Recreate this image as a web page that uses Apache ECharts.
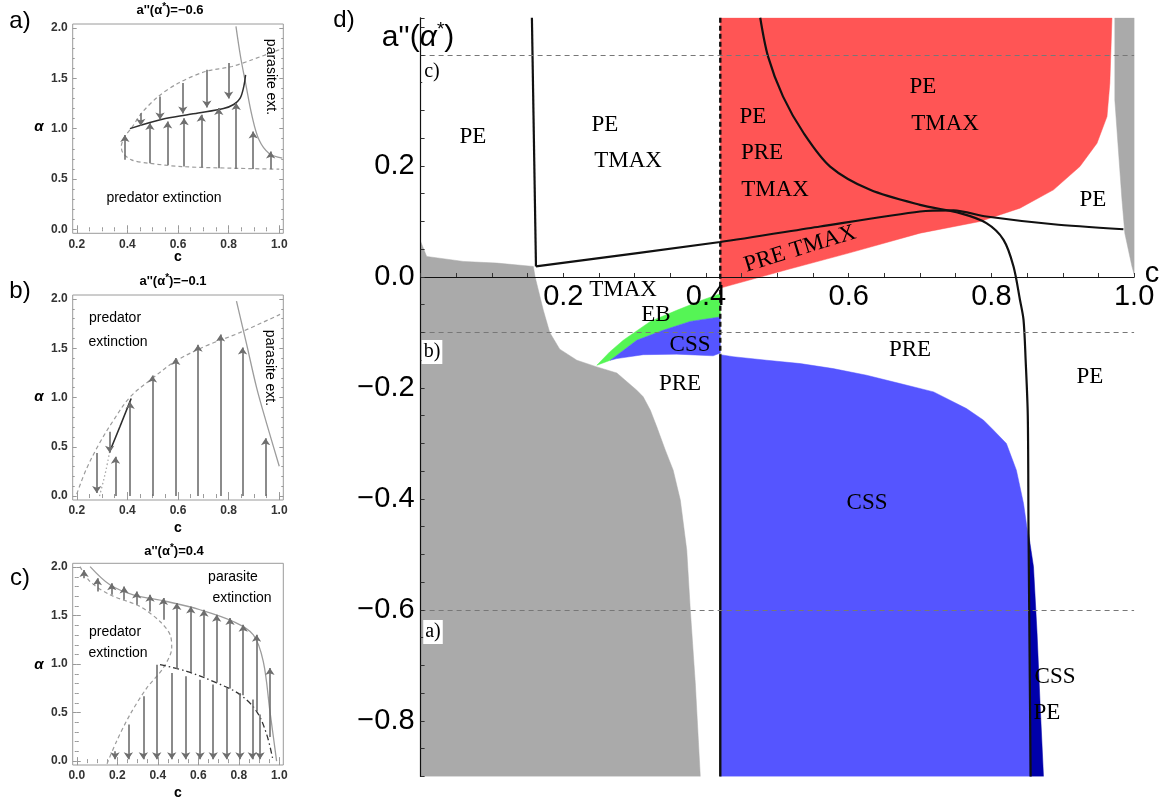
<!DOCTYPE html>
<html><head><meta charset="utf-8">
<script src="https://cdn.jsdelivr.net/npm/echarts@6/dist/echarts.min.js"></script>
<style>html,body{margin:0;padding:0;background:#fff}#c{width:1163px;height:803px}</style>
</head><body><div id="c"></div>
<script>
// ---------------- DATA ----------------
// small panels: tick values
const abXMajor = [0.2, 0.4, 0.6, 0.8, 1.0];
const abXMinor = [0.25, 0.3, 0.35, 0.45, 0.5, 0.55, 0.65, 0.7, 0.75, 0.85, 0.9, 0.95];
const cXMajor = [0.0, 0.2, 0.4, 0.6, 0.8, 1.0];
const cXMinor = [0.05, 0.1, 0.15, 0.25, 0.3, 0.35, 0.45, 0.5, 0.55, 0.65, 0.7, 0.75, 0.85, 0.9, 0.95];
const smallYMajor = [0.0, 0.5, 1.0, 1.5, 2.0];
const smallYMinor = [0.1, 0.2, 0.3, 0.4, 0.6, 0.7, 0.8, 0.9, 1.1, 1.2, 1.3, 1.4, 1.6, 1.7, 1.8, 1.9];

// panel a  (c, alpha)
const aDashed = [[1.0,1.784],[0.893,1.685],[0.814,1.618],[0.708,1.568],[0.602,1.453],[0.522,1.32],[0.456,1.154],[0.416,1.005],[0.39,0.921],[0.376,0.822],[0.383,0.756],[0.416,0.69],[0.482,0.657],[0.615,0.623],[0.814,0.607],[1.0,0.597]];
const aStable = [[0.41,1.0],[0.55,1.1],[0.68,1.155],[0.78,1.2],[0.82,1.24],[0.845,1.3],[0.86,1.42],[0.867,1.535]];
const aParasite = [[0.829,2.016],[0.847,1.717],[0.867,1.453],[0.893,1.12],[0.92,0.889],[0.959,0.756],[1.012,0.706]];
const aArrowsDown = [[0.453,1.154,1.03],[0.529,1.32,1.09],[0.619,1.453,1.15],[0.714,1.585,1.21],[0.8,1.652,1.30]];
const aArrowsUp = [[0.39,0.69,0.938],[0.489,0.657,1.055],[0.559,0.64,1.071],[0.624,0.623,1.104],[0.692,0.613,1.137],[0.761,0.607,1.204],[0.83,0.6,1.254],[0.897,0.6,0.971],[0.966,0.597,0.772]];

// panel b
const bDashed = [[0.2,0.02],[0.237,0.268],[0.29,0.537],[0.343,0.76],[0.409,1.0],[0.488,1.173],[0.594,1.374],[0.712,1.525],[0.844,1.658],[1.003,1.843]];
const bDotted = [[0.29,0.0],[0.305,0.15],[0.316,0.268],[0.33,0.45]];
const bStable = [[0.33,0.45],[0.37,0.7],[0.415,0.99]];
const bParasite = [[0.831,1.977],[0.871,1.542],[0.91,1.106],[0.95,0.738],[1.0,0.302]];
const bArrowsDown = [[0.279,0.436,0.03],[0.33,0.653,0.44]];
const bArrowsUp = [[0.353,0.0,0.40],[0.411,0.0,0.955],[0.499,0.0,1.223],[0.591,0.0,1.4],[0.679,0.0,1.535],[0.768,0.0,1.64],[0.855,0.0,1.507],[0.946,0.0,0.587]];

// panel c
const cParasite = [[0.066,2.006],[0.164,1.818],[0.279,1.715],[0.444,1.646],[0.609,1.561],[0.773,1.44],[0.872,1.303],[0.921,1.029],[0.954,0.514],[0.987,0.0]];
const cDashed = [[0.016,2.006],[0.066,1.852],[0.164,1.715],[0.312,1.595],[0.411,1.44],[0.461,1.304],[0.469,1.167],[0.427,0.961],[0.346,0.755],[0.263,0.48],[0.197,0.206],[0.148,-0.034]];
const cUnstable = [[0.411,0.995],[0.543,0.926],[0.691,0.807],[0.806,0.686],[0.888,0.514],[0.938,0.275],[0.97,0.0]];
const cArrowsUp = [[0.036,1.887,1.972],[0.102,1.749,1.887],[0.173,1.715,1.835],[0.234,1.664,1.8],[0.296,1.612,1.749],[0.362,1.543,1.715],[0.428,1.458,1.681],[0.494,0.95,1.63],[0.563,0.92,1.595],[0.628,0.87,1.56],[0.691,0.81,1.509],[0.757,0.75,1.475],[0.822,0.68,1.406],[0.888,0.514,1.304],[0.954,0.25,0.961]];
const cArrowsDown = [[0.189,0.103,0.02],[0.255,0.378,0.02],[0.329,0.669,0.02],[0.395,0.995,0.02],[0.469,0.909,0.02],[0.538,0.875,0.02],[0.609,0.84,0.02],[0.674,0.789,0.02],[0.74,0.755,0.02],[0.806,0.703,0.02],[0.867,0.635,0.02],[0.905,0.48,0.02]];

// panel d  (c, a''(alpha*))
const dGreyLeft = [[0,0.064],[0.0085,0.037],[0.06,0.028],[0.107,0.025],[0.158,0.019],[0.1605,0],[0.172,-0.06],[0.181,-0.1],[0.195,-0.13],[0.219,-0.15],[0.247,-0.162],[0.275,-0.173],[0.303,-0.204],[0.312,-0.216],[0.322,-0.24],[0.331,-0.27],[0.343,-0.312],[0.354,-0.348],[0.364,-0.402],[0.373,-0.492],[0.378,-0.6],[0.385,-0.732],[0.392,-0.9],[0,-0.9]];
const dGreyRight = [[0.973,0.467],[0.973,0.319],[0.978,0.229],[0.983,0.139],[0.987,0.079],[0.997,0.019],[1.0,0.005],[1.0,0.467]];
const dRed = [[0.42,0.467],[0.42,-0.02],[0.513,0.013],[0.6,0.043],[0.7,0.079],[0.784,0.1],[0.84,0.124],[0.887,0.157],[0.924,0.199],[0.948,0.241],[0.962,0.289],[0.966,0.349],[0.969,0.467]];
const dGreen = [[0.247,-0.159],[0.265,-0.135],[0.284,-0.114],[0.322,-0.08],[0.359,-0.06],[0.396,-0.041],[0.42,-0.03],[0.42,-0.072],[0.378,-0.08],[0.34,-0.096],[0.303,-0.114],[0.266,-0.15]];
const dBlueSmall = [[0.266,-0.15],[0.303,-0.114],[0.34,-0.096],[0.378,-0.08],[0.42,-0.072],[0.42,-0.137],[0.41,-0.142],[0.359,-0.139],[0.312,-0.14],[0.275,-0.147]];
const dBlueBig = [[0.42,-0.14],[0.438,-0.1436],[0.485,-0.15],[0.532,-0.156],[0.578,-0.165],[0.625,-0.177],[0.672,-0.192],[0.719,-0.207],[0.742,-0.222],[0.765,-0.237],[0.789,-0.258],[0.803,-0.276],[0.821,-0.3],[0.828,-0.324],[0.835,-0.348],[0.84,-0.378],[0.845,-0.408],[0.851,-0.462],[0.853,-0.5],[0.854,-0.582],[0.854,-0.9],[0.42,-0.9]];
const dDarkBlue = [[0.852,-0.462],[0.859,-0.522],[0.864,-0.642],[0.868,-0.762],[0.873,-0.9],[0.854,-0.9],[0.854,-0.55]];
const dBound1Vert = [[0.156,0.467],[0.1617,0.019]];
const dBound1 = [[0.1617,0.019],[0.42,0.063],[0.56,0.091],[0.7,0.118],[0.747,0.12],[0.793,0.109],[0.887,0.095],[0.985,0.086]];
const dBound2 = [[0.476,0.467],[0.487,0.397],[0.508,0.325],[0.537,0.259],[0.574,0.199],[0.63,0.157],[0.7,0.13],[0.756,0.115],[0.793,0.097],[0.817,0.067],[0.831,0.019],[0.84,-0.041],[0.845,-0.077],[0.848,-0.15],[0.851,-0.25],[0.852,-0.45],[0.855,-0.9]];
const dSepDashed = [[0.42,0.467],[0.42,-0.14]];
const dSepSolid = [[0.42,-0.14],[0.42,-0.9]];
const dLevels = [0.4, -0.1, -0.6];

// ---------------- BUILD ----------------
const SANS = '"Liberation Sans", Arial, sans-serif';
const SERIF = '"Liberation Serif", "Times New Roman", serif';
const grids = [], xAxes = [], yAxes = [], series = [], graphics = [];

function tickAxis(kind, gi, min, max, pos, ticks, len, showLabels) {
  return {
    gridIndex: gi, type: 'value', min: min, max: max, position: pos,
    axisLine: {show: false}, splitLine: {show: false},
    axisTick: {show: true, inside: true, length: len, customValues: ticks, lineStyle: {color: '#999', width: 1}},
    axisLabel: showLabels ? {show: true, customValues: ticks, formatter: v => v.toFixed(1),
      color: '#333', fontWeight: 'bold', fontSize: 12, fontFamily: SANS, margin: 5} : {show: false}
  };
}

function smallPanel(box, xr, xMaj, xMin) {
  const gi = grids.length;
  grids.push(Object.assign({show: true, borderColor: '#9a9a9a', borderWidth: 1, containLabel: false, outerBoundsMode: 'none'}, box));
  const xi = xAxes.length, yi = yAxes.length;
  xAxes.push(tickAxis('x', gi, xr[0], xr[1], 'bottom', xMaj, 4, true));
  xAxes.push(tickAxis('x', gi, xr[0], xr[1], 'bottom', xMin, 2, false));
  xAxes.push(tickAxis('x', gi, xr[0], xr[1], 'top', xMaj, 4, false));
  xAxes.push(tickAxis('x', gi, xr[0], xr[1], 'top', xMin, 2, false));
  yAxes.push(tickAxis('y', gi, -0.04, 2.04, 'left', smallYMajor, 4, true));
  yAxes.push(tickAxis('y', gi, -0.04, 2.04, 'left', smallYMinor, 2, false));
  yAxes.push(tickAxis('y', gi, -0.04, 2.04, 'right', smallYMajor, 4, false));
  yAxes.push(tickAxis('y', gi, -0.04, 2.04, 'right', smallYMinor, 2, false));
  return {xi, yi};
}

function curve(ax, data, color, width, type, smooth) {
  series.push({type: 'line', xAxisIndex: ax.xi, yAxisIndex: ax.yi, data: data, symbol: 'none', showSymbol: false,
    smooth: smooth === undefined ? 0.35 : smooth, silent: true, clip: true,
    lineStyle: {color: color, width: width, type: type || 'solid'}, z: 3});
}
function arrows(ax, arr) {
  series.push({type: 'lines', coordinateSystem: 'cartesian2d', xAxisIndex: ax.xi, yAxisIndex: ax.yi, silent: true,
    data: arr.map(a => ({coords: [[a[0], a[1]], [a[0], a[2]]]})),
    symbol: ['none', 'arrow'], symbolSize: 7,
    lineStyle: {color: '#6e6e6e', width: 1.6, opacity: 1, curveness: 0}, z: 4});
}
function poly(ax, pts, color) {
  series.push({type: 'custom', coordinateSystem: 'cartesian2d', xAxisIndex: ax.xi, yAxisIndex: ax.yi,
    data: [[pts[0][0], pts[0][1]]], silent: true, clip: true, z: 2,
    renderItem: (params, api) => ({type: 'polygon', shape: {points: pts.map(p => api.coord(p))},
      style: {fill: color, stroke: color, lineWidth: 0.5}})});
}
function txt(text, x, y, font, extra) {
  graphics.push(Object.assign({type: 'text', x: x, y: y, z: 100,
    style: Object.assign({text: text, font: font, fill: '#000', align: 'center', verticalAlign: 'middle',
      textAlign: 'center', textVerticalAlign: 'middle'}, (extra && extra.style) || {})},
    (extra && extra.el) || {}));
}

// ---- panel a
const A = smallPanel({left: 72.7, top: 24, width: 210.6, height: 209.3}, [0.184, 1.016], abXMajor, abXMinor);
curve(A, aDashed, '#9c9c9c', 1.2, [4, 3], 0.3);
curve(A, aParasite, '#9c9c9c', 1.3, 'solid');
curve(A, aStable, '#2e2e2e', 1.5, 'solid');
arrows(A, aArrowsDown); arrows(A, aArrowsUp);

// ---- panel b
const B = smallPanel({left: 72.7, top: 295, width: 210.6, height: 205}, [0.184, 1.016], abXMajor, abXMinor);
curve(B, bDashed, '#9c9c9c', 1.2, [4, 3]);
curve(B, bDotted, '#a8a8a8', 1.3, [1.5, 2.5]);
curve(B, bParasite, '#9c9c9c', 1.3, 'solid');
curve(B, bStable, '#2e2e2e', 1.6, 'solid', 0);
arrows(B, bArrowsDown); arrows(B, bArrowsUp);

// ---- panel c
const C = smallPanel({left: 72.7, top: 563.3, width: 210.6, height: 201.7}, [-0.02, 1.02], cXMajor, cXMinor);
curve(C, cDashed, '#9c9c9c', 1.2, [4, 3], 0.3);
curve(C, cParasite, '#9c9c9c', 1.3, 'solid');
curve(C, cUnstable, '#333', 1.3, [6, 3, 1.5, 3]);
arrows(C, cArrowsUp); arrows(C, cArrowsDown);

// ---- panel d
const gd = grids.length;
const dTop = 17.8, dH = 758.7;
const dZeroFromBottom = dH * 0.9 / 1.367;
grids.push({left: 420.6, top: dTop, width: 713.5, height: dH, containLabel: false, outerBoundsMode: 'none', show: false});
const isMul = (v, s) => Math.abs(v / s - Math.round(v / s)) < 1e-6;
const fmtD = v => (v < 0 ? '\u2212' + (-v).toFixed(1) : v.toFixed(1));
const D = {xi: xAxes.length, yi: yAxes.length};
xAxes.push({gridIndex: gd, type: 'value', min: 0, max: 1, interval: 0.05, z: 5,
  axisLine: {show: true, onZero: true, lineStyle: {color: '#111', width: 1.2}},
  axisTick: {show: true, inside: true, length: 4, lineStyle: {color: '#333'}},
  axisLabel: {show: false},
  splitLine: {show: false}});
yAxes.push({gridIndex: gd, type: 'value', min: -0.9, max: 0.467, interval: 0.05, z: 5,
  axisLine: {show: true, onZero: false, lineStyle: {color: '#111', width: 1.2}},
  axisTick: {show: true, inside: true, length: 4, lineStyle: {color: '#333'}},
  axisLabel: {formatter: v => (v < 0.3 && isMul(v, 0.2)) ? fmtD(v) : '', fontSize: 29, fontFamily: SANS, color: '#000', margin: 6},
  splitLine: {show: false}});
// label-only x axis sitting on the zero line
xAxes.push({gridIndex: gd, type: 'value', min: 0, max: 1, interval: 0.05, z: 5, position: 'bottom',
  offset: -dZeroFromBottom,
  axisLine: {show: false, onZero: false}, axisTick: {show: false},
  axisLabel: {formatter: v => (v > 0.01 && isMul(v, 0.2)) ? v.toFixed(1) : '', fontSize: 29, fontFamily: SANS, color: '#000', margin: 6},
  splitLine: {show: false}});

poly(D, dGreyLeft, '#aaaaaa');
poly(D, dGreyRight, '#aaaaaa');
poly(D, dRed, '#ff5555');
poly(D, dGreen, '#55f555');
poly(D, dBlueSmall, '#5555ff');
poly(D, dBlueBig, '#5555ff');
poly(D, dDarkBlue, '#0000aa');
curve(D, dBound1Vert, '#111', 2.2, 'solid', 0);
curve(D, dBound1, '#111', 2.2, 'solid', 0.25);
curve(D, dBound2, '#111', 2.2, 'solid', 0.3);
curve(D, dSepDashed, '#111', 2.4, [5, 3], 0);
curve(D, dSepSolid, '#111', 2.4, 'solid', 0);
series.push({type: 'line', xAxisIndex: D.xi, yAxisIndex: D.yi, data: [], silent: true, z: 6,
  markLine: {silent: true, symbol: ['none', 'none'], label: {show: false}, animation: false,
    lineStyle: {color: '#777', type: [5, 4], width: 1},
    data: dLevels.map(v => [{coord: [0, v]}, {coord: [1, v]}])}});

// ---------------- TEXT ----------------
const small = '14px ' + SANS;
const big = '24px ' + SANS;
// panel letters
txt('a)', 20, 21, big); txt('b)', 20, 291, big); txt('c)', 20, 578, big); txt('d)', 344, 20, big);
// titles
const titleStyle = () => ({style: {rich: {s: {font: 'bold 10px ' + SANS, verticalAlign: 'top', lineHeight: 15}}}});
txt("a''(\u03b1{s|*})=\u22120.6", 170, 10, 'bold 13px ' + SANS, titleStyle());
txt("a''(\u03b1{s|*})=\u22120.1", 173, 281, 'bold 13px ' + SANS, titleStyle());
txt("a''(\u03b1{s|*})=0.4", 174, 551, 'bold 13px ' + SANS, titleStyle());
// axis names small
[[178, 257], [178, 528], [178, 793]].forEach(p => txt('c', p[0], p[1], 'bold 14px ' + SANS));
[[39, 127], [39, 397], [39, 665]].forEach(p => txt('\u03b1', p[0], p[1], 'italic bold 15px ' + SANS));
// annotations small panels
txt('predator extinction', 164, 198, small);
txt('parasite ext.', 271, 77, small, {el: {rotation: -Math.PI / 2}});
txt('predator', 115, 318, small); txt('extinction', 118, 342, small);
txt('parasite ext.', 270, 368, small, {el: {rotation: -Math.PI / 2}});
txt('parasite', 233, 577, small); txt('extinction', 242, 598, small);
txt('predator', 115, 632, small); txt('extinction', 118, 653, small);
// panel d axis names
txt("a''({i|\u03b1}{s|*})", 418, 38, '30px ' + SANS, {style: {rich: {
  i: {font: 'italic 30px ' + SANS, lineHeight: 36}, s: {font: '19px ' + SANS, verticalAlign: 'top', lineHeight: 36}}}});
txt('c', 1152, 274, '29px ' + SANS);
// panel d small reference labels
const boxed = {style: {backgroundColor: '#fff', padding: [2, 2]}};
txt('c)', 432, 72, '20px ' + SERIF, boxed);
txt('b)', 432, 352, '20px ' + SERIF, boxed);
txt('a)', 433, 632, '20px ' + SERIF, boxed);
// region labels
const rf = '23px ' + SERIF;
[['PE', 473, 137], ['PE', 605, 125], ['TMAX', 628, 161],
 ['PE', 753, 117], ['PRE', 762, 153], ['TMAX', 775, 190],
 ['PE', 923, 87], ['TMAX', 945, 124], ['PE', 1093, 200],
 ['TMAX', 623, 290], ['EB', 656, 315], ['CSS', 690, 345], ['PRE', 680, 384],
 ['PRE', 910, 350], ['PE', 1090, 377], ['CSS', 867, 503],
 ['CSS', 1055, 677], ['PE', 1047, 713]].forEach(r => txt(r[0], r[1], r[2], rf));
txt('PRE TMAX', 800, 249, rf, {el: {rotation: 17 * Math.PI / 180}});

const chart = echarts.init(document.getElementById('c'), null, {renderer: 'canvas'});
chart.setOption({
  animation: false,
  backgroundColor: '#fff',
  grid: grids, xAxis: xAxes, yAxis: yAxes, series: series,
  graphic: {elements: graphics}
});
</script></body></html>
